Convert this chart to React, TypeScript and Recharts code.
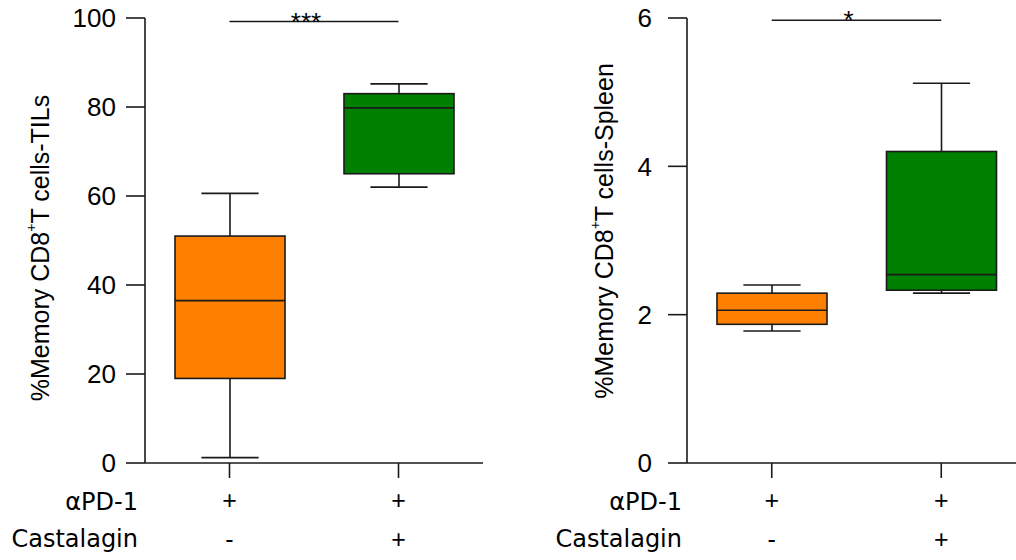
import React from 'react';
import { ComposedChart, Bar, XAxis, YAxis, ReferenceLine } from 'recharts';

// ---------- data ----------
const categories = ['aPD1-only', 'aPD1+Castalagin'];
const pd1Signs = ['+', '+'];
const castalaginSigns = ['-', '+'];
const rowHeaders = ['\u03b1PD-1', 'Castalagin'];
const boxColors = ['#FF8000', '#008000'];

const tilsMin = [1.2, 62.0];
const tilsQ1 = [19.0, 65.0];
const tilsMedian = [36.5, 79.8];
const tilsQ3 = [51.0, 83.0];
const tilsMax = [60.6, 85.2];
const tilsTicks = [0, 20, 40, 60, 80, 100];
const tilsSignificance = '***';
const tilsSigLevel = 99.2;

const spleenMin = [1.78, 2.29];
const spleenQ1 = [1.87, 2.33];
const spleenMedian = [2.06, 2.54];
const spleenQ3 = [2.29, 4.2];
const spleenMax = [2.4, 5.12];
const spleenTicks = [0, 2, 4, 6];
const spleenSignificance = '*';
const spleenSigLevel = 5.97;

const FONT = '"Liberation Sans", Arial, Helvetica, sans-serif';
const WIDE_FONT = '"DejaVu Sans", "Liberation Sans", Arial, sans-serif';
const INK = '#1a1a1a';

function buildRows(mins: number[], q1s: number[], meds: number[], q3s: number[], maxs: number[]) {
  return categories.map((c, i) => ({
    cat: c,
    range: [mins[i], maxs[i]],
    min: mins[i],
    q1: q1s[i],
    median: meds[i],
    q3: q3s[i],
    max: maxs[i],
    color: boxColors[i],
  }));
}

const tilsRows = buildRows(tilsMin, tilsQ1, tilsMedian, tilsQ3, tilsMax);
const spleenRows = buildRows(spleenMin, spleenQ1, spleenMedian, spleenQ3, spleenMax);

// ---------- shapes ----------
const BoxShape = (props: any) => {
  const { x, y, width, height, payload } = props;
  if (!payload || height == null) return null;
  const { min, q1, median, q3, max, color } = payload;
  const ppu = height / (max - min);
  const py = (v: number) => y + (max - v) * ppu;
  const cx = x + width / 2;
  const capHalf = width * 0.26;
  const sw = 1.6;
  return (
    <g>
      <line x1={cx} x2={cx} y1={py(max)} y2={py(q3)} stroke={INK} strokeWidth={sw} />
      <line x1={cx} x2={cx} y1={py(q1)} y2={py(min)} stroke={INK} strokeWidth={sw} />
      <line x1={cx - capHalf} x2={cx + capHalf} y1={py(max)} y2={py(max)} stroke={INK} strokeWidth={sw} />
      <line x1={cx - capHalf} x2={cx + capHalf} y1={py(min)} y2={py(min)} stroke={INK} strokeWidth={sw} />
      <rect x={x} y={py(q3)} width={width} height={py(q1) - py(q3)} fill={color} stroke={INK} strokeWidth={sw} />
      <line x1={x} x2={x + width} y1={py(median)} y2={py(median)} stroke={INK} strokeWidth={sw} />
    </g>
  );
};

const SignTick = (props: any) => {
  const { x, y, payload } = props;
  const i = categories.indexOf(payload.value);
  return (
    <g>
      <text x={x} y={y + 31} textAnchor="middle" fontSize={25} fontFamily={FONT} fill="#000">
        {pd1Signs[i]}
      </text>
      <text x={x} y={y + 70} textAnchor="middle" fontSize={25} fontFamily={FONT} fill="#000">
        {castalaginSigns[i]}
      </text>
    </g>
  );
};

type PanelProps = {
  rows: any[];
  ticks: number[];
  domain: [number, number];
  yLabelTail: string;
  sig: string;
  sigLevel: number;
  width: number;
  yAxisWidth: number;
  marginRight: number;
  tickMargin: number;
  labelCx: number;
  labelCy: number;
  headerGap: number;
};

function Panel(p: PanelProps) {
  return (
    <ComposedChart
      width={p.width}
      height={560}
      data={p.rows}
      margin={{ top: 18, right: p.marginRight, bottom: 0, left: 0 }}
    >
      <XAxis
        dataKey="cat"
        height={97}
        tickSize={15}
        tickMargin={0}
        interval={0}
        axisLine={{ stroke: INK, strokeWidth: 1.6 }}
        tickLine={{ stroke: INK, strokeWidth: 1.6 }}
        tick={(tp: any) => <SignTick {...tp} />}
        label={{
          content: (lp: any) => {
            const vb = lp.viewBox || {};
            return (
              <g>
                <text x={vb.x - p.headerGap} y={vb.y + 47} textAnchor="end" fontSize={24} fontFamily={WIDE_FONT} fill="#000">
                  {rowHeaders[0]}
                </text>
                <text x={vb.x - p.headerGap} y={vb.y + 84} textAnchor="end" fontSize={24} fontFamily={WIDE_FONT} fill="#000">
                  {rowHeaders[1]}
                </text>
              </g>
            );
          },
        }}
      />
      <YAxis
        type="number"
        domain={p.domain}
        ticks={p.ticks}
        width={p.yAxisWidth}
        tickSize={19}
        tickMargin={p.tickMargin}
        axisLine={{ stroke: INK, strokeWidth: 1.6 }}
        tickLine={{ stroke: INK, strokeWidth: 1.6 }}
        tick={{ fontSize: 26, fill: '#000', fontFamily: FONT }}
        label={{
          content: () => (
            <text
              x={p.labelCx}
              y={p.labelCy}
              transform={`rotate(-90 ${p.labelCx} ${p.labelCy})`}
              textAnchor="middle"
              dominantBaseline="central"
              fontSize={25}
              fontFamily={FONT}
              fill="#000"
            >
              <tspan>%Memory CD8</tspan>
              <tspan fontSize={14} dy={-9}>+</tspan>
              <tspan dy={9}>{'T cells-' + p.yLabelTail}</tspan>
            </text>
          ),
        }}
      />
      <Bar dataKey="range" barSize={110} shape={(bp: any) => <BoxShape {...bp} />} isAnimationActive={false} />
      <ReferenceLine
        segment={[
          { x: categories[0], y: p.sigLevel },
          { x: categories[1], y: p.sigLevel },
        ]}
        stroke={INK}
        strokeWidth={1.6}
        ifOverflow="visible"
        label={{
          content: (lp: any) => {
            const vb = lp.viewBox || {};
            return (
              <text
                x={vb.x + vb.width / 2 - 8}
                y={vb.y + 9}
                textAnchor="middle"
                fontSize={26}
                fontFamily={FONT}
                fill="#000"
              >
                {p.sig}
              </text>
            );
          },
        }}
      />
    </ComposedChart>
  );
}

export default function App() {
  return (
    <div
      style={{
        position: 'absolute',
        left: 0,
        top: 0,
        width: 1016,
        height: 560,
        overflow: 'hidden',
        background: '#fff',
      }}
    >
      <div style={{ position: 'absolute', left: 0, top: 0 }}>
        <Panel
          rows={tilsRows}
          ticks={tilsTicks}
          domain={[0, 100]}
          yLabelTail="TILs"
          sig={tilsSignificance}
          sigLevel={tilsSigLevel}
          width={500}
          yAxisWidth={145}
          marginRight={17}
          tickMargin={10}
          labelCx={40}
          labelCy={248}
          headerGap={7}
        />
      </div>
      <div style={{ position: 'absolute', left: 500, top: 0 }}>
        <Panel
          rows={spleenRows}
          ticks={spleenTicks}
          domain={[0, 6]}
          yLabelTail="Spleen"
          sig={spleenSignificance}
          sigLevel={spleenSigLevel}
          width={540}
          yAxisWidth={187}
          marginRight={14}
          tickMargin={16}
          labelCx={104}
          labelCy={231}
          headerGap={5}
        />
      </div>
    </div>
  );
}
